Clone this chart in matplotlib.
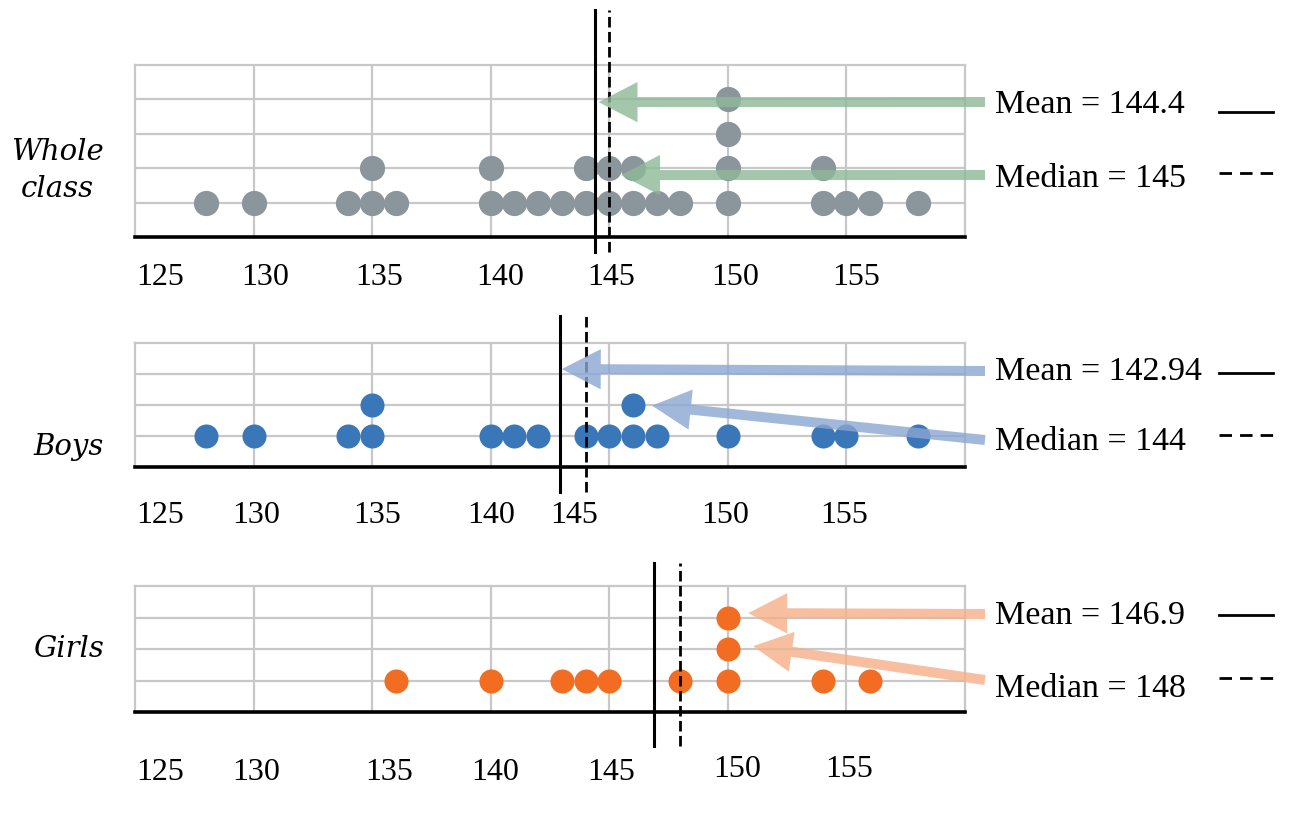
import matplotlib
matplotlib.use("Agg")
import matplotlib.pyplot as plt
from matplotlib.lines import Line2D
from matplotlib.transforms import blended_transform_factory

W, H = 1310, 816

# heights in cm, one entry per pupil
boys = [128, 130, 134, 135, 135, 140, 141, 142, 144, 145, 146, 146, 147,
        150, 154, 155, 158]
girls = [136, 140, 143, 144, 145, 148, 150, 150, 150, 154, 156]
whole_class = sorted(boys + girls)

group_names = ["Whole class", "Boys", "Girls"]
means = [144.4, 142.94, 146.9]
medians = [145, 144, 148]
mean_labels = ["Mean = 144.4", "Mean = 142.94", "Mean = 146.9"]
median_labels = ["Median = 145", "Median = 144", "Median = 148"]
tick_values = [125, 130, 135, 140, 145, 150, 155]

dot_colors = ["#8b959c", "#3a77b9", "#f26d21"]
arrow_colors = ["#8dba98", "#8aa6d3", "#f5b088"]
grid_c = "#c8c8c8"
serif = "Liberation Serif"

# layout of each panel (pixels of the 1310x816 picture)
panels = [
    dict(data=whole_class, top=65, bottom=237, rows=5, s=330,
         vline=(-0.09, 1.32),
         tick_pos=[126.05, 130.5, 135.3, 140.4, 145.1, 150.3, 155.4],
         tick_y=[-48] * 7,
         mean_txt=113, med_txt=187, mean_leg=112, med_leg=173,
         mean_arrow=((144.55, 3.92), 102), med_arrow=((145.5, 1.8), 175)),
    dict(data=boys, top=343, bottom=467, rows=4, s=300,
         vline=(-0.2, 1.22),
         tick_pos=[126.05, 130.1, 135.2, 140.0, 143.5, 149.9, 154.9],
         tick_y=[-56] * 7,
         mean_txt=380, med_txt=450, mean_leg=373, med_leg=435,
         mean_arrow=((143.0, 3.16), 371), med_arrow=((146.8, 1.98), 440)),
    dict(data=girls, top=586, bottom=712, rows=4, s=300,
         vline=(-0.27, 1.18),
         tick_pos=[126.05, 130.1, 135.7, 140.2, 145.1, 150.4, 155.1],
         tick_y=[-68, -68, -68, -68, -68, -65, -65],
         mean_txt=624, med_txt=697, mean_leg=615, med_leg=678,
         mean_arrow=((150.86, 3.14), 614), med_arrow=((151.07, 2.09), 680)),
]

label_pos = [[("Whole", 57, 160, "center"), ("class", 57, 197, "center")],
             [("Boys", 104, 455, "right")],
             [("Girls", 104, 657, "right")]]

fig = plt.figure(figsize=(W / 100, H / 100), dpi=100)

for i, p in enumerate(panels):
    left, right = 135, 965
    ax = fig.add_axes([left / W, 1 - p["bottom"] / H, (right - left) / W,
                       (p["bottom"] - p["top"]) / H])
    ax.set_xlim(125, 160)
    ax.set_ylim(0, p["rows"])
    ax.set_xticks([])
    ax.set_yticks([])
    for x in range(130, 160, 5):
        ax.axvline(x, color=grid_c, lw=1.6, zorder=1)
    for y in range(1, p["rows"]):
        ax.axhline(y, color=grid_c, lw=1.6, zorder=1)
    for side in ["top", "left", "right"]:
        ax.spines[side].set_color(grid_c)
        ax.spines[side].set_linewidth(1.6)
    ax.spines["bottom"].set_color("black")
    ax.spines["bottom"].set_linewidth(2.6)

    # stack the dots
    seen = {}
    xs, ys = [], []
    for v in p["data"]:
        seen[v] = seen.get(v, 0) + 1
        xs.append(v)
        ys.append(seen[v])
    ax.scatter(xs, ys, s=p["s"], color=dot_colors[i], lw=0, zorder=3,
               clip_on=False)

    y0, y1 = p["vline"]
    ax.axvline(means[i], ymin=y0, ymax=y1, color="black", lw=2.2,
               clip_on=False, zorder=4)
    ax.axvline(medians[i], ymin=y0, ymax=y1, color="black", lw=2.0,
               ls=(0, (3.8, 1.6)), clip_on=False, zorder=4)

    trans = blended_transform_factory(ax.transData, ax.transAxes)
    hpx = p["bottom"] - p["top"]
    for v, xp, dy in zip(tick_values, p["tick_pos"], p["tick_y"]):
        ax.text(xp, dy / hpx, str(v), transform=trans, ha="center",
                va="baseline", fontsize=23, family=serif)

    for (tip, tail_y) in [p["mean_arrow"], p["med_arrow"]]:
        ax.annotate("", xy=tip, xycoords="data",
                    xytext=(985, H - tail_y), textcoords="figure pixels",
                    arrowprops=dict(arrowstyle="simple,head_length=1.4,"
                                               "head_width=1.45,tail_width=0.36",
                                    mutation_scale=20, color=arrow_colors[i],
                                    alpha=0.8, lw=0, shrinkA=0, shrinkB=0),
                    zorder=5)

    fig.text(995 / W, 1 - p["mean_txt"] / H, mean_labels[i], fontsize=24.5,
             family=serif, va="baseline", ha="left")
    fig.text(995 / W, 1 - p["med_txt"] / H, median_labels[i], fontsize=24.5,
             family=serif, va="baseline", ha="left")
    fig.add_artist(Line2D([1219 / W, 1273 / W], [1 - p["mean_leg"] / H] * 2,
                          color="black", lw=2, transform=fig.transFigure))
    fig.add_artist(Line2D([1219 / W, 1273 / W], [1 - p["med_leg"] / H] * 2,
                          color="black", lw=2, ls=(0, (4.5, 2.9)),
                          transform=fig.transFigure))

    for txt, x, y, ha in label_pos[i]:
        fig.text(x / W, 1 - y / H, txt, fontsize=21, family="DejaVu Serif",
                 style="italic", ha=ha, va="baseline")

fig.savefig("out.png", dpi=100)
